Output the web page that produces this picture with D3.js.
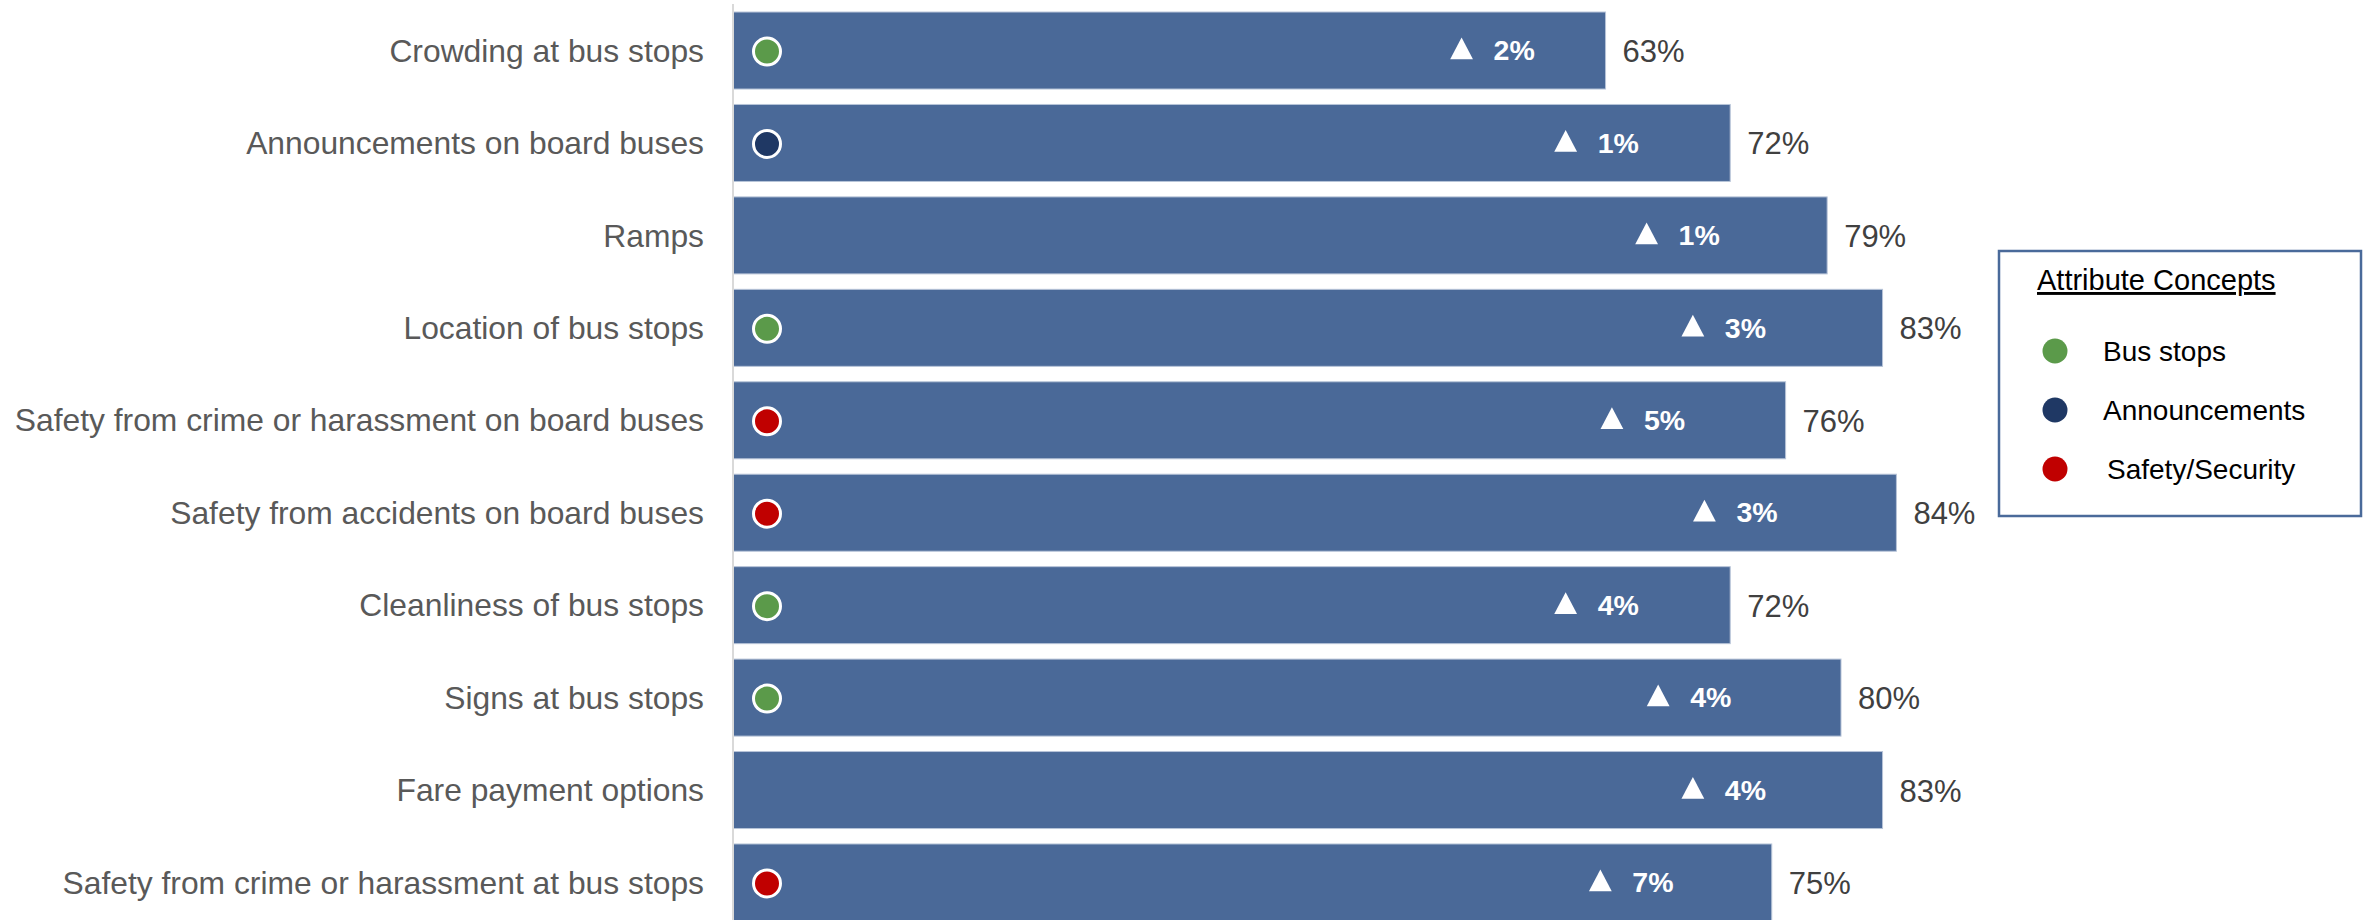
<html>

<head>
  <script src="https://d3js.org/d3.v7.min.js"></script>

  <style>
    body {
      margin: 0;
      background: #fff;
    }

    text {
      font-family: "Liberation Sans", Arial, sans-serif;
    }

    .cat-label {
      fill: #595959;
      font-size: 31.8px;
    }

    .value-label {
      fill: #404040;
      font-size: 31px;
    }

    .change-label {
      fill: #fff;
      font-size: 28.5px;
      font-weight: bold;
    }

    .legend-text {
      fill: #000;
      font-size: 28px;
    }
  </style>
</head>

<body>

  <svg id="chart" height="920" width="2366"></svg>

  <script>

    // DATA
    const categories = [
      "Crowding at bus stops",
      "Announcements on board buses",
      "Ramps",
      "Location of bus stops",
      "Safety from crime or harassment on board buses",
      "Safety from accidents on board buses",
      "Cleanliness of bus stops",
      "Signs at bus stops",
      "Fare payment options",
      "Safety from crime or harassment at bus stops"
    ];
    const scores = [63, 72, 79, 83, 76, 84, 72, 80, 83, 75];
    const changes = [2, 1, 1, 3, 5, 3, 4, 4, 4, 7];
    const concepts = ["Bus stops", "Announcements", null, "Bus stops", "Safety/Security",
      "Safety/Security", "Bus stops", "Bus stops", null, "Safety/Security"];
    const conceptNames = ["Bus stops", "Announcements", "Safety/Security"];
    const conceptColors = ["#5b9a4a", "#1f3864", "#c00000"];

    const rows = categories.map((c, i) => ({
      name: c, score: scores[i], change: changes[i], concept: concepts[i]
    }));

    const svg = d3.select("#chart");

    const x = d3.scaleLinear().domain([0, 100]).range([733, 733 + 1385]);
    const y = d3.scaleBand().domain(categories).range([4.3, 928.7])
      .paddingInner(0.167).paddingOuter(0.0835);
    const color = d3.scaleOrdinal().domain(conceptNames).range(conceptColors);

    // bars
    svg.selectAll("rect.bar").data(rows)
      .join("rect")
      .attr("class", "bar")
      .attr("x", x(0))
      .attr("y", d => y(d.name))
      .attr("width", d => x(d.score) - x(0))
      .attr("height", y.bandwidth())
      .attr("fill", "#4a6998")
      .attr("stroke", "#b7c4d8")
      .attr("stroke-width", 1);

    // category axis line
    svg.append("line")
      .attr("x1", x(0)).attr("x2", x(0))
      .attr("y1", 4).attr("y2", 920)
      .attr("stroke", "#d9d9d9")
      .attr("stroke-width", 2);

    // category labels
    svg.selectAll("text.cat-label").data(rows)
      .join("text")
      .attr("class", "cat-label")
      .attr("text-anchor", "end")
      .attr("x", x(0) - 29)
      .attr("y", d => y(d.name) + y.bandwidth() / 2)
      .attr("dy", "0.35em")
      .text(d => d.name);

    // value labels
    svg.selectAll("text.value-label").data(rows)
      .join("text")
      .attr("class", "value-label")
      .attr("x", d => x(d.score) + 17)
      .attr("y", d => y(d.name) + y.bandwidth() / 2)
      .attr("dy", "0.37em")
      .text(d => d.score + "%");

    // concept dots
    svg.selectAll("circle.concept").data(rows.filter(d => d.concept))
      .join("circle")
      .attr("class", "concept")
      .attr("cx", x(0) + 34)
      .attr("cy", d => y(d.name) + y.bandwidth() / 2 + 1)
      .attr("r", 13.5)
      .attr("fill", d => color(d.concept))
      .attr("stroke", "#fff")
      .attr("stroke-width", 3);

    // change labels (triangle + bold %)
    const tri = d3.symbol().type(d3.symbolTriangle).size(225);
    const change = svg.selectAll("g.change").data(rows)
      .join("g")
      .attr("class", "change")
      .attr("transform", d => `translate(${x(d.score * 0.835)},${y(d.name) + y.bandwidth() / 2})`);
    change.append("path")
      .attr("d", tri)
      .attr("fill", "#fff")
      .attr("transform", "translate(0,1.5) scale(1,1.1)");
    change.append("text")
      .attr("class", "change-label")
      .attr("x", 32)
      .attr("dy", "0.34em")
      .text(d => d.change + "%");

    // LEGEND
    const legend = svg.append("g").attr("transform", "translate(1999,251)");
    legend.append("rect")
      .attr("width", 362)
      .attr("height", 265)
      .attr("fill", "#fff")
      .attr("stroke", "#4a6a9a")
      .attr("stroke-width", 2.5);
    legend.append("text")
      .attr("class", "legend-text")
      .attr("x", 38)
      .attr("y", 39)
      .style("font-size", "29px")
      .style("text-decoration", "underline")
      .text("Attribute Concepts");

    const legendY = d3.scalePoint().domain(conceptNames).range([100, 218]);
    const item = legend.selectAll("g.item").data(conceptNames)
      .join("g")
      .attr("class", "item")
      .attr("transform", d => `translate(0,${legendY(d)})`);
    item.append("circle")
      .attr("cx", 56)
      .attr("r", 12.5)
      .attr("fill", d => color(d));
    item.append("text")
      .attr("class", "legend-text")
      .attr("x", (d, i) => i === 2 ? 108 : 104)
      .attr("dy", "0.37em")
      .text(d => d);

  </script>

</body>

</html>
